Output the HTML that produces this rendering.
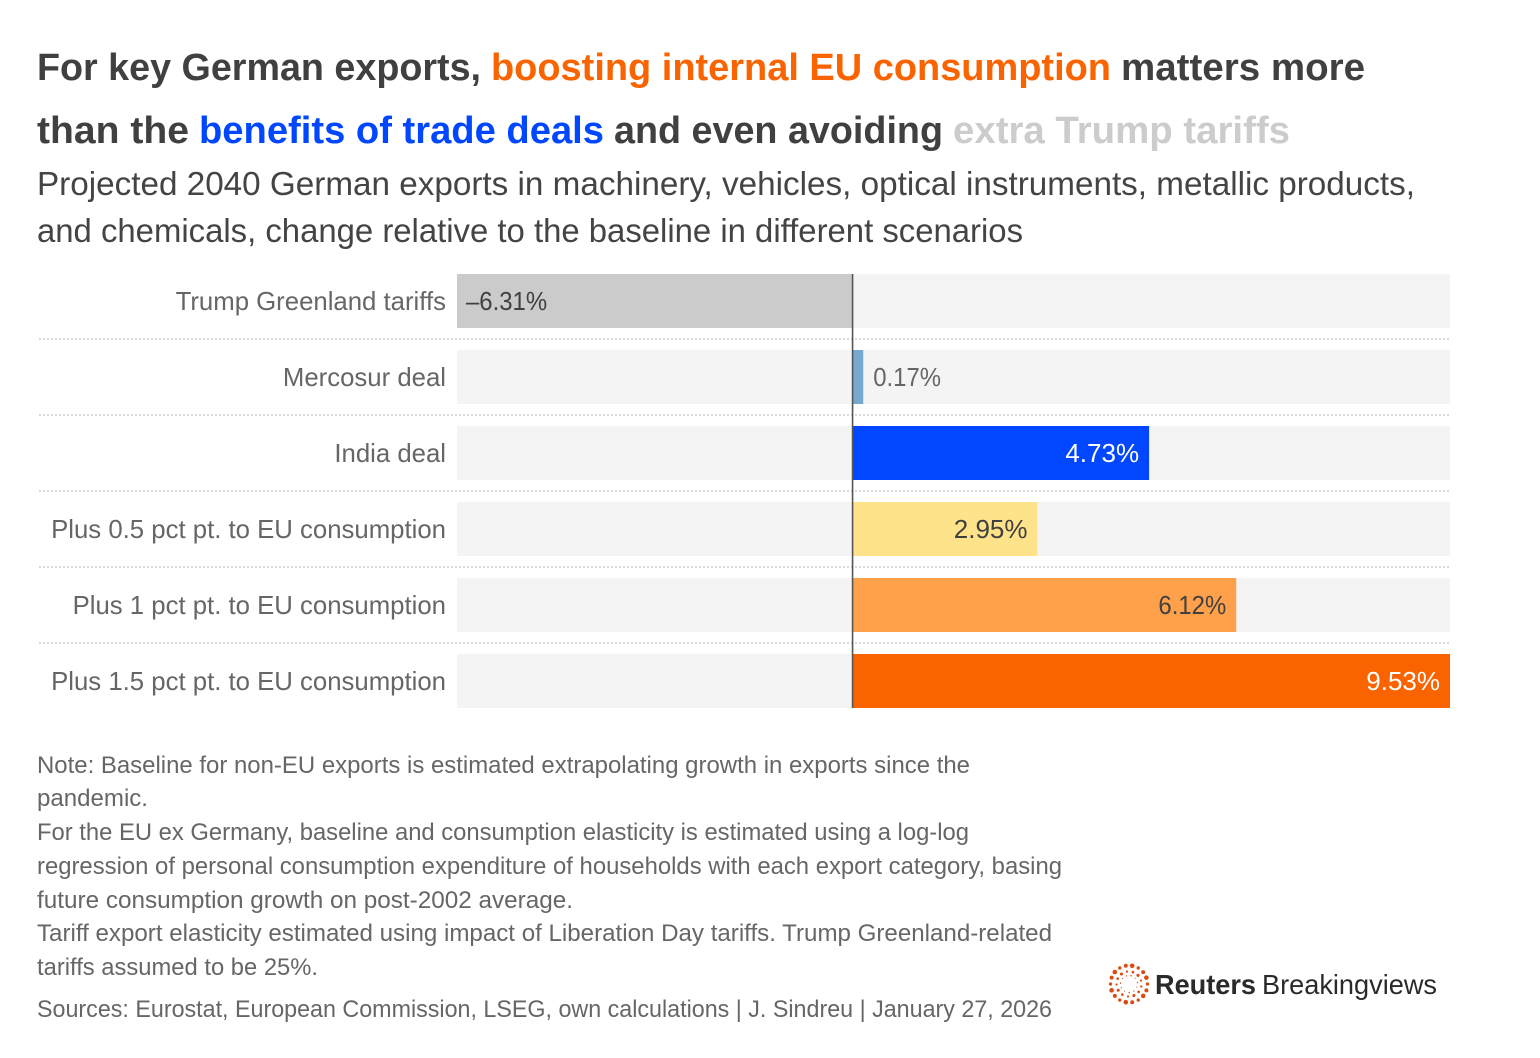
<!DOCTYPE html>
<html lang="en">
<head>
<meta charset="utf-8">
<title>German exports scenarios</title>
<style>
  html, body { margin: 0; padding: 0; background: #fff; }
  svg { display: block; font-family: "Liberation Sans", sans-serif; }
  .title { font-size: 38px; font-weight: 700; }
  .sub { font-size: 33px; fill: #444; }
  .note { font-size: 24px; fill: #666; }
</style>
</head>
<body>
<svg id="chart" width="1540" height="1058" viewBox="0 0 1540 1058" xmlns="http://www.w3.org/2000/svg">
  <rect width="1540" height="1058" fill="#fff"/>

  <g class="title">
    <text x="37" y="80" fill="#404040" textLength="444" lengthAdjust="spacingAndGlyphs">For key German exports,</text>
    <text x="491" y="80" fill="#fa6400" textLength="620" lengthAdjust="spacingAndGlyphs">boosting internal EU consumption</text>
    <text x="1121" y="80" fill="#404040" textLength="244" lengthAdjust="spacingAndGlyphs">matters more</text>
    <text x="37" y="143" fill="#404040" textLength="152" lengthAdjust="spacingAndGlyphs">than the</text>
    <text x="199" y="143" fill="#0047ff" textLength="405" lengthAdjust="spacingAndGlyphs">benefits of trade deals</text>
    <text x="614" y="143" fill="#404040" textLength="329" lengthAdjust="spacingAndGlyphs">and even avoiding</text>
    <text x="953" y="143" fill="#cccccc" textLength="337" lengthAdjust="spacingAndGlyphs">extra Trump tariffs</text>
  </g>

  <g class="sub">
    <text x="37" y="195" textLength="1378" lengthAdjust="spacingAndGlyphs">Projected 2040 German exports in machinery, vehicles, optical instruments, metallic products,</text>
    <text x="37" y="242" textLength="986" lengthAdjust="spacingAndGlyphs">and chemicals, change relative to the baseline in different scenarios</text>
  </g>

  <g id="plot"></g>

  <g class="note">
    <text x="37" y="773" textLength="933" lengthAdjust="spacingAndGlyphs">Note: Baseline for non-EU exports is estimated extrapolating growth in exports since the</text>
    <text x="37" y="806" textLength="111" lengthAdjust="spacingAndGlyphs">pandemic.</text>
    <text x="37" y="840" textLength="932" lengthAdjust="spacingAndGlyphs">For the EU ex Germany, baseline and consumption elasticity is estimated using a log-log</text>
    <text x="37" y="874" textLength="1025" lengthAdjust="spacingAndGlyphs">regression of personal consumption expenditure of households with each export category, basing</text>
    <text x="37" y="908" textLength="536" lengthAdjust="spacingAndGlyphs">future consumption growth on post-2002 average.</text>
    <text x="37" y="941" textLength="1015" lengthAdjust="spacingAndGlyphs">Tariff export elasticity estimated using impact of Liberation Day tariffs. Trump Greenland-related</text>
    <text x="37" y="975" textLength="281" lengthAdjust="spacingAndGlyphs">tariffs assumed to be 25%.</text>
    <text x="37" y="1017" textLength="1015" lengthAdjust="spacingAndGlyphs">Sources: Eurostat, European Commission, LSEG, own calculations | J. Sindreu | January 27, 2026</text>
  </g>

  <g>
    <g id="logo-mark" fill="#dc4b14"></g>
    <text x="1155" y="994" font-size="28" font-weight="700" fill="#2a2a2a" textLength="101" lengthAdjust="spacingAndGlyphs">Reuters</text>
    <text x="1262" y="994" font-size="28" fill="#2a2a2a" textLength="175" lengthAdjust="spacingAndGlyphs">Breakingviews</text>
  </g>
</svg>

<script>
const categories = ["Trump Greenland tariffs", "Mercosur deal", "India deal", "Plus 0.5 pct pt. to EU consumption", "Plus 1 pct pt. to EU consumption", "Plus 1.5 pct pt. to EU consumption"];
const values = [-6.31, 0.17, 4.73, 2.95, 6.12, 9.53];
const valueLabels = ["\u20136.31%", "0.17%", "4.73%", "2.95%", "6.12%", "9.53%"];
const barColors = ["#cbcbcb", "#75a9d0", "#0047ff", "#ffe38a", "#ffa04a", "#fa6400"];
const labelColors = ["#404040", "#666666", "#ffffff", "#404040", "#404040", "#ffffff"];

const NS = "http://www.w3.org/2000/svg";
const plot = document.getElementById("plot");
const domainMin = -6.31, domainMax = 9.53;
const rangeLeft = 457, rangeRight = 1450;
const x = v => rangeLeft + (v - domainMin) / (domainMax - domainMin) * (rangeRight - rangeLeft);
const rowTop = i => 274 + i * 76;
const barHeight = 54;

function shape(tag, attrs, parent) {
  const el = document.createElementNS(NS, tag);
  for (const k in attrs) el.setAttribute(k, attrs[k]);
  parent.appendChild(el);
  return el;
}
function fit(el, ratio) {
  el.setAttribute("textLength", el.getComputedTextLength() * ratio);
  el.setAttribute("lengthAdjust", "spacingAndGlyphs");
}

categories.forEach((name, i) => {
  const top = rowTop(i);
  const v = values[i];

  const track = shape("rect", { x: rangeLeft, y: top, width: rangeRight - rangeLeft, height: barHeight, fill: "#f4f4f4" }, plot);
  
  

  if (i < categories.length - 1) {
    const sep = shape("line", { x1: 39, x2: 1450, y1: top + 65, y2: top + 65, stroke: "#d8d8d8", "stroke-width": 2, "stroke-dasharray": "2 2" }, plot);
    
    
  }

  const label = shape("text", { x: 446, y: top + 36, "text-anchor": "end", "font-size": 26, fill: "#666" }, plot);
  label.textContent = name;
  
  
  fit(label, 0.99);

  const bar = shape("rect", { x: Math.min(x(0), x(v)), y: top, width: Math.abs(x(v) - x(0)), height: barHeight, fill: barColors[i] }, plot);
  
  

  const width = Math.abs(x(v) - x(0));
  const inside = width > 60;
  const anchor = v < 0 ? "start" : (inside ? "end" : "start");
  const vx = v < 0 ? x(v) + 9 : (inside ? x(v) - 10 : x(v) + 10);
  const val = shape("text", { x: vx, y: top + 36, "text-anchor": anchor, "font-size": 26, fill: labelColors[i] }, plot);
  val.textContent = valueLabels[i];
  
  
  fit(val, valueLabels[i].includes("1") ? 0.92 : 1);
});

const zero = shape("line", { x1: x(0), x2: x(0), y1: rowTop(0), y2: rowTop(categories.length - 1) + barHeight, stroke: "#555", "stroke-width": 1.6 }, plot);



const mark = document.getElementById("logo-mark");
[[18.5, 18, 2.1], [12.5, 13, 1.4], [8.5, 11, 0.7]].forEach(([radius, count, size], ring) => {
  for (let k = 0; k < count; k++) {
    const a = (k / count) * Math.PI * 2 + ring * 0.2;
    const dot = shape("circle", {
      cx: 1129 + radius * Math.cos(a),
      cy: 984 + radius * Math.sin(a),
      r: size * (0.8 + 0.3 * ((k * 7) % 3) / 2)
    }, mark);
    
    
  }
});
</script>
</body>
</html>
